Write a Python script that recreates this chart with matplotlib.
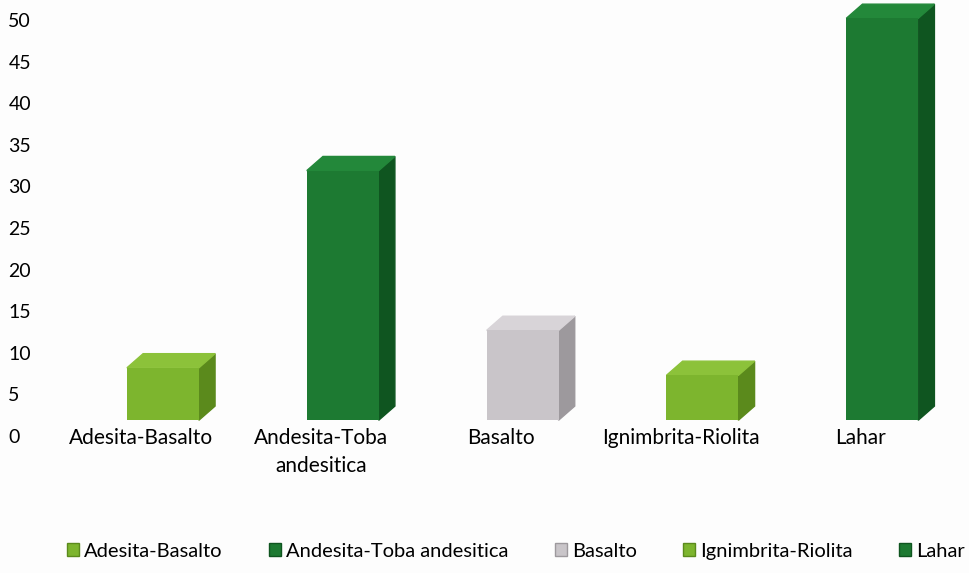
import numpy as np
import matplotlib.pyplot as plt
from matplotlib.patches import Polygon, Patch

plt.rcParams['font.family'] = ['Lato', 'DejaVu Sans']

categorias = ['Adesita-Basalto', 'Andesita-Toba\nandesitica', 'Basalto',
              'Ignimbrita-Riolita', 'Lahar']
leyenda    = ['Adesita-Basalto', 'Andesita-Toba andesitica', 'Basalto',
              'Ignimbrita-Riolita', 'Lahar']
valores    = [6.3, 30, 10.8, 5.4, 48.3]
colores    = ['#7db52e', '#1d7a32', '#c9c5c9', '#7db52e', '#1d7a32']
lados      = ['#5b8a1c', '#0f5520', '#9d999d', '#5b8a1c', '#0f5520']
topes      = ['#8cc23a', '#23883a', '#d8d4d8', '#8cc23a', '#23883a']

piso  = 1.9     # floor of the 3d bars
ancho = 0.40
dx    = 0.09    # depth in x
dy    = 1.7     # depth in y
shift = 0.12

fig = plt.figure(figsize=(9.7, 5.73), dpi=100)
fig.patch.set_facecolor('#fdfdfd')
ax = fig.add_axes([0.053, 0.239, 0.927, 0.761])
ax.set_facecolor('#fdfdfd')

x = np.arange(len(valores))
xb = x + shift
ax.bar(xb, valores, width=ancho, bottom=piso, color=colores, zorder=3)
for xi, v, cl, ct in zip(xb, valores, lados, topes):
    r = xi + ancho / 2
    l = xi - ancho / 2
    top = piso + v
    ax.add_patch(Polygon([[r, piso], [r + dx, piso + dy], [r + dx, top + dy], [r, top]],
                         closed=True, color=cl, zorder=2))
    ax.add_patch(Polygon([[l, top], [l + dx, top + dy], [r + dx, top + dy], [r, top]],
                         closed=True, color=ct, zorder=2))

ax.set_xlim(-0.5, len(valores) - 0.5)
ax.set_ylim(0, 52.4)
ax.set_yticks(np.arange(0, 51, 5))
ax.set_xticks(x)
ax.set_xticklabels(categorias, fontsize=15, linespacing=1.5)
ax.tick_params(axis='x', length=0, pad=-6)
ax.tick_params(axis='y', length=0, pad=31, labelsize=14)
for t in ax.get_yticklabels():
    t.set_horizontalalignment('left')
for s in ax.spines.values():
    s.set_visible(False)

handles = [Patch(facecolor=c, edgecolor=l) for c, l in zip(colores, lados)]
fig.legend(handles, leyenda, loc='center', bbox_to_anchor=(0.532, 0.038), ncol=5,
           frameon=False, fontsize=14.5, handlelength=0.6, handleheight=0.6,
           handletextpad=0.25, columnspacing=2.3)

fig.savefig('out.png', dpi=100, facecolor=fig.get_facecolor())
